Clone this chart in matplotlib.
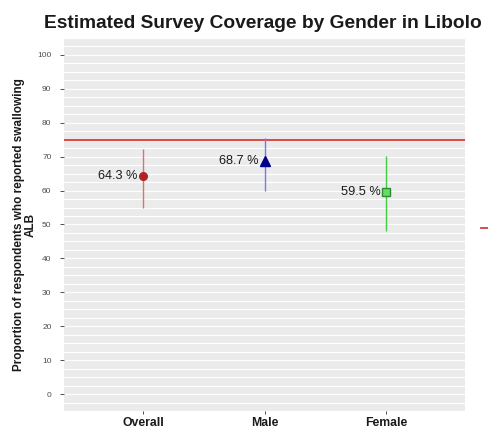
import matplotlib
matplotlib.use("Agg")
import matplotlib.pyplot as plt
from matplotlib.lines import Line2D
import numpy as np

categories = ["Overall", "Male", "Female"]
estimates = [64.3, 68.7, 59.5]
ci_low = [55.0, 60.0, 48.2]
ci_high = [72.4, 75.6, 70.3]
labels = ["64.3 %", "68.7 %", "59.5 %"]
target = 75
yticks = [0, 10, 20, 30, 40, 50, 60, 70, 80, 90, 100]

point_colors = ["#B22222", "#00008B", "#2E8B2E"]
point_faces = ["#B22222", "#00008B", "#66DD66"]
bar_colors = ["#E07070", "#7777EE", "#44CC44"]
markers = ["o", "^", "s"]
msizes = [5.5, 7.5, 5.5]

plt.rcParams['font.family'] = ['Liberation Sans', 'DejaVu Sans']

fig = plt.figure(figsize=(4.88, 4.28), dpi=100)
ax = fig.add_axes([64/488, 1-411/428, (465-64)/488, (411-38)/428])
ax.set_facecolor("#EBEBEB")
for s in ax.spines.values():
    s.set_visible(False)

for g in np.arange(-5, 105.1, 2.5):
    ax.axhline(g, color="white", lw=0.8, zorder=0)

ax.set_xlim(0.35, 3.65)
ax.set_ylim(-5, 105)
xs = np.arange(1, len(categories) + 1)

ax.axhline(target, color="#D93A3A", lw=1.3, zorder=2)

for i, x in enumerate(xs):
    ax.vlines(x, ci_low[i], ci_high[i], color=bar_colors[i], lw=1.0, zorder=3)
    ax.plot(x, estimates[i], marker=markers[i], color=point_colors[i],
            markerfacecolor=point_faces[i], markeredgecolor=point_colors[i],
            markersize=msizes[i], zorder=4, ls="none")
    ax.annotate(labels[i], (x, estimates[i]), xytext=(-4, 0), textcoords="offset points",
                ha="right", va="center", fontsize=9.2, color="#1A1A1A", zorder=5)

ax.set_yticks(yticks)
ax.set_yticklabels([str(v) for v in yticks], fontsize=6, color="#4D4D4D")
ax.set_xticks(xs)
ax.set_xticklabels(categories, fontsize=8.8, fontweight="bold", color="#1A1A1A")
ax.tick_params(axis="y", length=3, color="#333333", width=0.6, pad=6)
ax.tick_params(axis="x", length=2.5, color="#333333", width=0.6, pad=2)

ax.set_ylabel("Proportion of respondents who reported swallowing\nALB",
              fontsize=8.5, fontweight="bold", color="#1A1A1A", labelpad=0.5, linespacing=1.0)

fig.text(262.5/488, 1-24/428, "Estimated Survey Coverage by Gender in Libolo",
         ha="center", va="center", fontsize=13.8, fontweight="bold", color="#1A1A1A")

fig.add_artist(Line2D([481/488, 1.0], [1-228/428, 1-228/428], color="#D93A3A", lw=1.3,
                      transform=fig.transFigure))

fig.savefig("out.png", dpi=100)
